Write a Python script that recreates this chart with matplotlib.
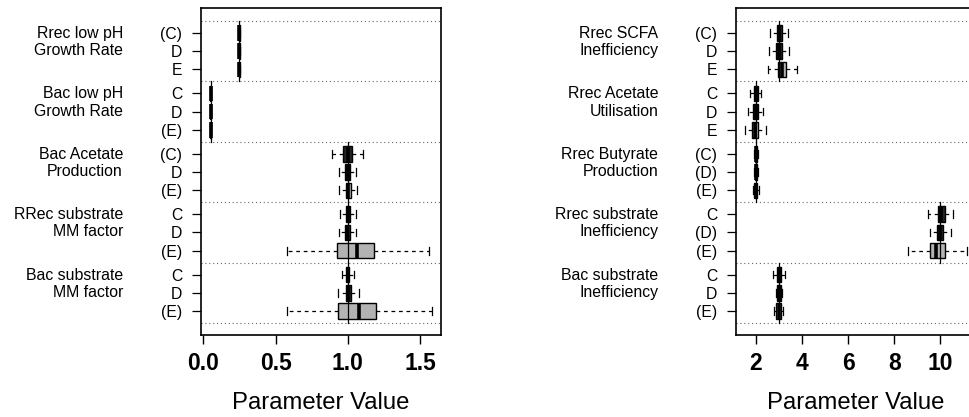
import matplotlib
matplotlib.use("Agg")
import matplotlib.pyplot as plt

plt.rcParams['font.family'] = ['Liberation Sans', 'DejaVu Sans']

# ---------------- data ----------------
left_groups = ["Rrec low pH\nGrowth Rate", "Bac low pH\nGrowth Rate", "Bac Acetate\nProduction",
               "RRec substrate\nMM factor", "Bac substrate\nMM factor"]
left_rows = ["(C)", "D", "E", "C", "D", "(E)", "(C)", "D", "(E)", "C", "D", "(E)", "C", "D", "(E)"]
left_true = [0.25, 0.05, 1.0, 1.0, 1.0]
left_whislo = [0.243, 0.243, 0.243, 0.046, 0.046, 0.046, 0.889, 0.942, 0.942, 0.947, 0.942, 0.577, 0.960, 0.930, 0.577]
left_q1 = [0.246, 0.246, 0.246, 0.048, 0.048, 0.048, 0.970, 0.983, 0.986, 0.986, 0.983, 0.928, 0.988, 0.985, 0.933]
left_med = [0.250, 0.250, 0.250, 0.050, 0.050, 0.050, 1.000, 1.000, 1.003, 1.000, 0.998, 1.067, 1.000, 1.000, 1.075]
left_q3 = [0.254, 0.254, 0.254, 0.052, 0.052, 0.052, 1.028, 1.016, 1.021, 1.019, 1.016, 1.182, 1.011, 1.023, 1.194]
left_whishi = [0.257, 0.257, 0.257, 0.054, 0.054, 0.054, 1.104, 1.057, 1.066, 1.057, 1.057, 1.565, 1.041, 1.075, 1.584]
left_ticks = [0.0, 0.5, 1.0, 1.5]
left_ticklabels = ["0.0", "0.5", "1.0", "1.5"]

right_groups = ["Rrec SCFA\nInefficiency", "Rrec Acetate\nUtilisation", "Rrec Butyrate\nProduction",
                "Rrec substrate\nInefficiency", "Bac substrate\nInefficiency"]
right_rows = ["(C)", "D", "E", "C", "D", "E", "(C)", "(D)", "(E)", "C", "(D)", "(E)", "C", "D", "(E)"]
right_true = [3.0, 2.0, 2.0, 10.0, 3.0]
right_whislo = [2.62, 2.59, 2.55, 1.77, 1.68, 1.54, 1.92, 1.92, 1.88, 9.48, 9.55, 8.61, 2.76, 2.88, 2.81]
right_q1 = [2.91, 2.90, 2.98, 1.91, 1.88, 1.85, 1.96, 1.96, 1.93, 9.89, 9.86, 9.57, 2.92, 2.94, 2.88]
right_med = [3.00, 3.00, 3.14, 2.00, 2.00, 1.98, 2.00, 2.00, 2.00, 10.05, 10.00, 9.81, 3.00, 3.00, 3.00]
right_q3 = [3.14, 3.14, 3.33, 2.09, 2.09, 2.11, 2.06, 2.05, 2.07, 10.20, 10.10, 10.20, 3.10, 3.10, 3.10]
right_whishi = [3.39, 3.44, 3.78, 2.23, 2.33, 2.43, 2.10, 2.09, 2.13, 10.56, 10.46, 11.14, 3.27, 3.15, 3.20]
right_ticks = [2, 4, 6, 8, 10]
right_ticklabels = ["2", "4", "6", "8", "10"]

# ---------------- layout ----------------
GSTEP = 3.31
positions = [g * GSTEP + k for g in range(5) for k in range(3)]
fills = ["#242424", "#242424", "#b3b3b3"] * 5

fig = plt.figure(figsize=(9.70, 4.17), dpi=100)
ax1 = fig.add_axes([201 / 970, 82 / 417, 240 / 970, 327 / 417])
ax2 = fig.add_axes([736 / 970, 82 / 417, 239.6 / 970, 327 / 417])


def draw(ax, groups, rows, true, lo, q1, med, q3, hi, xlim, ticks, ticklabels):
    stats = []
    for i in range(len(rows)):
        stats.append(dict(whislo=lo[i], q1=q1[i], med=med[i], q3=q3[i], whishi=hi[i], fliers=[]))
    bp = ax.bxp(stats, positions=positions, widths=0.85, orientation='horizontal',
                patch_artist=True, showfliers=False, capwidths=0.42,
                boxprops=dict(edgecolor='black', linewidth=1.0),
                whiskerprops=dict(color='black', linestyle=(0, (3, 3)), linewidth=0.9),
                capprops=dict(color='black', linewidth=0.9),
                medianprops=dict(color='black', linewidth=2.6, solid_capstyle='butt'),
                manage_ticks=False)
    for patch, fc in zip(bp['boxes'], fills):
        patch.set_facecolor(fc)

    seps = [g * GSTEP - 0.66 for g in range(6)]
    for s in seps:
        ax.axhline(s, color='#666666', linestyle=(0, (1, 2.5)), linewidth=0.8, zorder=1)
    for g in range(5):
        ax.plot([true[g], true[g]], [seps[g], seps[g + 1]], color='black', linewidth=0.9, zorder=5)

    ax.set_xlim(*xlim)
    ax.set_ylim(4 * GSTEP + 2 + 1.31, -1.37)
    ax.set_yticks(positions)
    ax.set_yticklabels(rows, fontsize=11.3)
    ax.set_xticks(ticks)
    ax.set_xticklabels(ticklabels, fontsize=16.5, fontweight='bold')
    ax.tick_params(axis='y', length=6.5, width=0.9, pad=7)
    ax.tick_params(axis='x', length=6.5, width=1.0, pad=6)
    for sp in ax.spines.values():
        sp.set_linewidth(1.2)
    ax.set_xlabel("Parameter Value", fontsize=17.2, labelpad=12)

    ytr = ax.get_yaxis_transform()
    for g in range(5):
        ax.text(-0.325, g * GSTEP + 0.5, groups[g], transform=ytr, ha='right', va='center',
                fontsize=11.4, linespacing=1.18, multialignment='right')


draw(ax1, left_groups, left_rows, left_true, left_whislo, left_q1, left_med, left_q3, left_whishi,
     (-0.016, 1.646), left_ticks, left_ticklabels)
draw(ax2, right_groups, right_rows, right_true, right_whislo, right_q1, right_med, right_q3, right_whishi,
     (1.146, 11.53), right_ticks, right_ticklabels)

fig.savefig("out.png", dpi=100)
